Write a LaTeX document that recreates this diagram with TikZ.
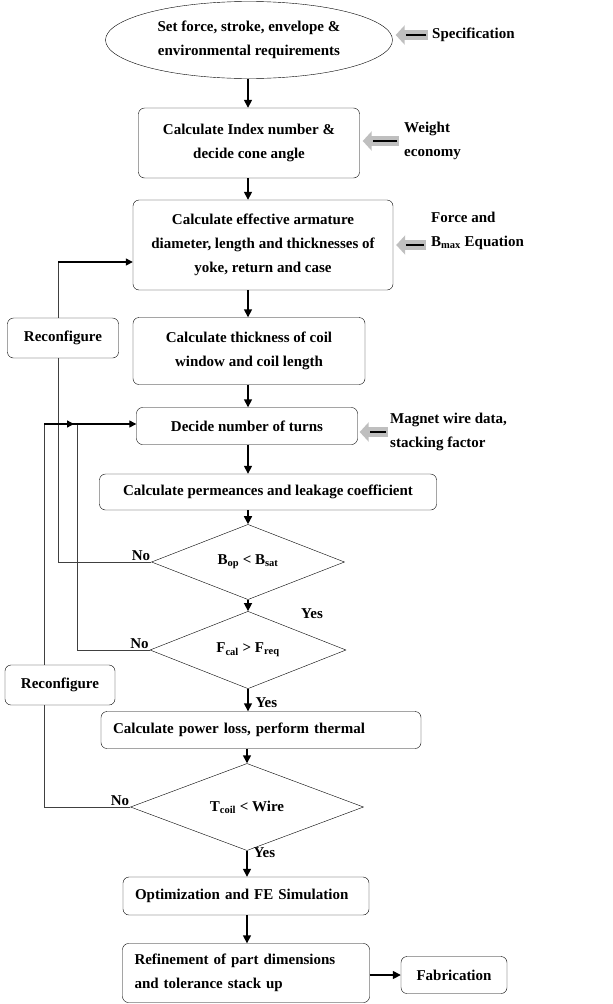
\documentclass[tikz,border=0pt]{standalone}
\usepackage{fontspec}
\setmainfont{Liberation Serif}
\usetikzlibrary{shapes.geometric,arrows.meta}

\begin{document}
\begin{tikzpicture}[x=1pt,y=-1pt, font=\fontsize{15}{24}\selectfont\bfseries,
	box/.style={draw, rounded corners=6pt, align=center, inner sep=0pt},
	cond/.style={draw, diamond, inner sep=0pt},
	flow/.style={line width=1.5pt, -{Triangle[length=8pt,width=8pt]}},
	back/.style={black!75, line width=0.6pt},
	backin/.style={line width=1.3pt, -{Triangle[length=7pt,width=7pt]}},
	feed/.style={line width=10pt, gray!50, -{Triangle[length=9pt,width=19pt]},
		postaction={draw=black, line width=2.4pt, -, shorten <=2pt, shorten >=10pt}},
	note/.style={anchor=west, align=left, inner sep=0pt}]
	\useasboundingbox (0,0) rectangle (613,1004);
	
	% main column
	\node[box, ellipse, minimum width=287pt, minimum height=77pt] (spec) at (249,40) {Set force, stroke, envelope \&\\environmental requirements};
	\node[box, minimum width=221pt, minimum height=70pt] (index) at (249,143) {Calculate Index number \&\\decide cone angle};
	\node[box, minimum width=260pt, minimum height=90pt] (arm) at (263,245) {Calculate effective armature\\diameter, length and thicknesses of\\yoke, return and case};
	\node[box, minimum width=232pt, minimum height=67pt] (coil) at (249,351) {Calculate thickness of coil\\window and coil length};
	\node[box, minimum width=221pt, minimum height=37pt] (turns) at (247,426) {Decide number of turns};
	\node[box, minimum width=337pt, minimum height=36pt] (perm) at (268,492) {Calculate permeances and leakage coefficient};
	\node[cond, minimum width=193pt, minimum height=50pt] (bsat) at (248,562) {B\textsubscript{op} < B\textsubscript{sat}};
	\node[cond, minimum width=196pt, minimum height=66pt] (freq) at (248,650) {F\textsubscript{cal} > F\textsubscript{req}};
	\node[box, minimum width=320pt, minimum height=37pt, text width=296pt, align=left] (power) at (261,730) {Calculate power loss, perform thermal};
	\node[cond, minimum width=233pt, minimum height=69pt] (tcoil) at (247,807) {T\textsubscript{coil} < Wire};
	\node[box, minimum width=246pt, minimum height=38pt, text width=222pt, align=left] (opt) at (246,896) {Optimization and FE Simulation};
	\node[box, minimum width=247pt, minimum height=59pt, text width=223pt, align=left] (refine) at (246,973) {Refinement of part dimensions\\and tolerance stack up};
	\node[box, minimum width=106pt, minimum height=37pt] (fab) at (454,975) {Fabrication};
	\node[box, minimum width=111pt, minimum height=40pt] (reconfA) at (63,338) {Reconfigure};
	\node[box, minimum width=110pt, minimum height=40pt] (reconfB) at (60,685) {Reconfigure};
	
	% inputs on the right
	\node[note] (specn) at (432,35) {Specification};
	\node[note] (weightn) at (404,141) {Weight\\economy};
	\node[note] (forcen) at (431,231) {Force and\\B\textsubscript{max} Equation};
	\node[note] (magn) at (390,432) {Magnet wire data,\\stacking factor};
	\draw[feed] ([xshift=-4pt]specn.west) -- ([xshift=3pt]specn.west -| spec.east);
	\draw[feed] ([xshift=-5pt]weightn.west) -- ([xshift=3pt]weightn.west -| index.east);
	\draw[feed] ([xshift=-5pt]forcen.west |- arm.east) -- ([xshift=3pt]arm.east);
	\draw[feed] ([xshift=-2pt]magn.west) -- ([xshift=2pt]magn.west -| turns.east);
	
	% flow
	\coordinate (ax) at (248,0);
	\draw[flow] (spec.south -| ax) -- (index.north -| ax);
	\draw[flow] (index.south -| ax) -- (arm.north -| ax);
	\draw[flow] (arm.south -| ax) -- (coil.north -| ax);
	\draw[flow] (coil.south -| ax) -- (turns.north -| ax);
	\draw[flow] (turns.south -| ax) -- (perm.north -| ax);
	\draw[flow] (perm.south -| ax) -- (bsat.north);
	\draw[flow] (bsat.south) -- (freq.north);
	\draw[flow] (freq.south) -- (power.north -| freq.south);
	\draw[flow] (power.south -| tcoil.north) -- (tcoil.north);
	\draw[flow] (tcoil.south) -- (opt.north -| tcoil.south);
	\draw[flow] (opt.south -| tcoil.south) -- (refine.north -| tcoil.south);
	\draw[flow] (refine.east |- fab.west) -- (fab.west);
	
	\node (yesA) at (312,614) {Yes};
	\node[anchor=west] (yesB) at (252,703) {Yes};
	\node[anchor=west] (yesC) at (250,853) {Yes};
	
	% loops back
	\coordinate (la) at (58,262);
	\coordinate (lb) at (77,424);
	\coordinate (lc) at (44,424);
	\draw[back] (bsat.west) -| (reconfA.south -| la);
	\draw[back] (reconfA.north -| la) -- (la);
	\draw[backin] (la) -- (la -| arm.west);
	\draw[back] (freq.west) -| (lb);
	\draw[back] (tcoil.west) -| (reconfB.south -| lc);
	\draw[back] (reconfB.north -| lc) -- (lc);
	\draw[backin] (lc) -- ++(30,0);
	\draw[backin] (lc) -- (lc -| turns.west);
	\node[above left, inner sep=1pt] (noA) at (bsat.west) {No};
	\node[above left, inner sep=1pt] (noB) at (freq.west) {No};
	\node[above left, inner sep=1pt] (noC) at (tcoil.west) {No};
\end{tikzpicture}
\end{document}
